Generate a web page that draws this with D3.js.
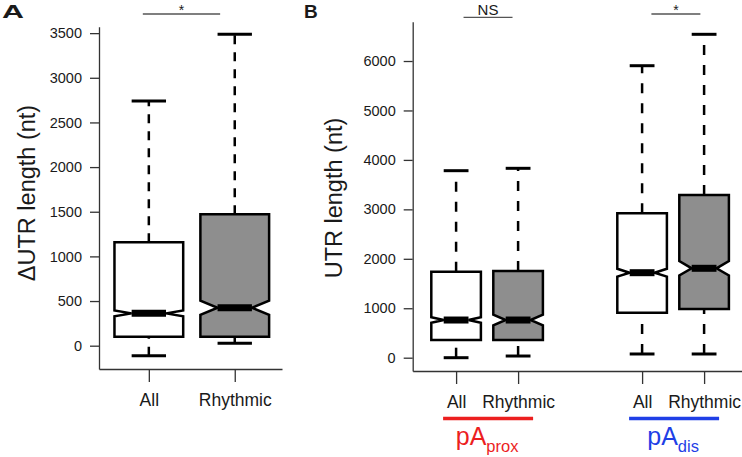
<!DOCTYPE html>
<html>
    <head>
        <meta charset="utf-8">
        <title>UTR length boxplots</title>
        <style>
            body { margin: 0; background: #fff; }
            text { font-family: Arial, "Liberation Sans", Helvetica, sans-serif; fill: #1a1a1a; }
        </style>
    </head>
    <body>
        <svg width="742" height="457" id="lienzo"></svg>

        <script src="https://cdn.jsdelivr.net/npm/d3@7/dist/d3.min.js"></script>
        <script>
            // Panel A: delta UTR length (nt)
            const aCategories = ["All", "Rhythmic"];
            const aWhiskerLow = [-112, 27];
            const aQ1 = [100, 100];
            const aMedian = [362, 425];
            const aQ3 = [1158, 1471];
            const aWhiskerHigh = [2740, 3487];
            const aNotch = [32, 80]; // half height of the notch, nt
            const aTicks = [0, 500, 1000, 1500, 2000, 2500, 3000, 3500];

            // Panel B: UTR length (nt), proximal and distal pA
            const bGroups = ["prox", "dis"];
            const bCategories = ["All", "Rhythmic", "All", "Rhythmic"];
            const bWhiskerLow = [0, 34, 75, 75];
            const bQ1 = [358, 358, 910, 985];
            const bMedian = [762, 762, 1719, 1808];
            const bQ3 = [1739, 1753, 2920, 3290];
            const bWhiskerHigh = [3782, 3830, 5905, 6540];
            const bNotch = [55, 108, 80, 145];
            const bTicks = [0, 1000, 2000, 3000, 4000, 5000, 6000];

            const svg = d3.select("#lienzo");

            function drawBoxes(g, x, y, slots, cats, lo, q1, med, q3, hi, notch, dash) {
                const hw = x(1.4) - x(1); // half box width (boxwex 0.8)
                cats.forEach((cat, i) => {
                    const cx = x(slots[i]);
                    const fill = cat === "Rhythmic" ? "#8e8e8e" : "#ffffff";
                    const nLo = y(med[i] - notch[i]), nHi = y(med[i] + notch[i]);
                    const pts = [
                        [cx - hw, y(q1[i])], [cx - hw, nLo], [cx - hw / 2, y(med[i])], [cx - hw, nHi],
                        [cx - hw, y(q3[i])], [cx + hw, y(q3[i])], [cx + hw, nHi], [cx + hw / 2, y(med[i])],
                        [cx + hw, nLo], [cx + hw, y(q1[i])]
                    ];
                    // whiskers
                    g.append("line")
                        .attr("x1", cx).attr("x2", cx)
                        .attr("y1", y(q3[i])).attr("y2", y(hi[i]))
                        .attr("stroke", "#000").attr("stroke-width", 2.5)
                        .attr("stroke-dasharray", dash);
                    g.append("line")
                        .attr("x1", cx).attr("x2", cx)
                        .attr("y1", y(lo[i])).attr("y2", y(q1[i]))
                        .attr("stroke", "#000").attr("stroke-width", 2.5)
                        .attr("stroke-dasharray", dash);
                    [lo[i], hi[i]].forEach(v => {
                        g.append("line")
                            .attr("x1", cx - hw / 2).attr("x2", cx + hw / 2)
                            .attr("y1", y(v)).attr("y2", y(v))
                            .attr("stroke", "#000").attr("stroke-width", 3);
                    });
                    // notched box
                    g.append("path")
                        .attr("d", d3.line()(pts) + "Z")
                        .attr("fill", fill)
                        .attr("stroke", "#000").attr("stroke-width", 2.5)
                        .attr("stroke-linejoin", "miter");
                    // median
                    g.append("line")
                        .attr("x1", cx - hw / 2).attr("x2", cx + hw / 2)
                        .attr("y1", y(med[i])).attr("y2", y(med[i]))
                        .attr("stroke", "#000").attr("stroke-width", 7);
                });
            }

            function drawAxes(g, x, y, ticks, slots, cats) {
                const yAxis = d3.axisLeft(y).tickValues(ticks).tickFormat(d3.format("d"))
                    .tickSize(9).tickSizeOuter(0).tickPadding(8);
                const yg = g.append("g")
                    .attr("transform", "translate(" + x.range()[0] + ",0)")
                    .call(yAxis);
                yg.selectAll("text").style("font-size", "14.5px").attr("fill", "#1a1a1a");

                const xAxis = d3.axisBottom(x).tickValues(slots).tickFormat((d, i) => cats[i])
                    .tickSize(13).tickSizeOuter(0).tickPadding(12);
                const xg = g.append("g")
                    .attr("transform", "translate(0," + y.range()[0] + ")")
                    .call(xAxis);
                xg.selectAll("text").style("font-size", "17.5px").attr("fill", "#1a1a1a");

                g.selectAll(".domain, .tick line").attr("stroke", "#333").attr("stroke-width", 1.3);
            }

            function drawSignif(g, x, from, to, ly, label, size) {
                g.append("line")
                    .attr("x1", x(from)).attr("x2", x(to))
                    .attr("y1", ly).attr("y2", ly)
                    .attr("stroke", "#555").attr("stroke-width", 1.3);
                g.append("text")
                    .attr("x", (x(from) + x(to)) / 2).attr("y", label === "*" ? ly + 0.5 : ly - 2.5)
                    .attr("text-anchor", "middle")
                    .style("font-size", size + "px")
                    .text(label);
            }

            // ---------------- Panel A ----------------
            const xA = d3.scaleLinear().domain([0.42, 2.55]).range([99, 282]);
            const yA = d3.scaleLinear().domain([-261, 3572]).range([369, 26.7]);
            const slotsA = aCategories.map((c, i) => i + 1);
            const gA = svg.append("g");
            drawAxes(gA, xA, yA, aTicks, slotsA, aCategories);
            drawBoxes(gA, xA, yA, slotsA, aCategories, aWhiskerLow, aQ1, aMedian, aQ3, aWhiskerHigh, aNotch, "9,8");
            drawSignif(gA, xA, 0.93, 1.83, 14, "*", 14);

            gA.append("text")
                .attr("transform", "translate(35,193) rotate(-90)")
                .attr("text-anchor", "middle")
                .style("font-size", "23.5px")
                .text("\u0394UTR length (nt)");
            gA.append("text")
                .attr("x", 2).attr("y", 18)
                .attr("textLength", 22).attr("lengthAdjust", "spacingAndGlyphs")
                .style("font-size", "19px").style("font-weight", "bold")
                .text("A");

            // ---------------- Panel B ----------------
            const xB = d3.scaleLinear().domain([0.3, 5.7]).range([412.7, 747.5]);
            const yB = d3.scaleLinear().domain([-269, 6795]).range([371, 21.7]);
            // two categories per group, an empty slot between groups
            const slotsB = bCategories.map((c, i) => Math.floor(i / 2) * 3 + (i % 2) + 1);
            const gB = svg.append("g");
            drawAxes(gB, xB, yB, bTicks, slotsB, bCategories);
            drawBoxes(gB, xB, yB, slotsB, bCategories, bWhiskerLow, bQ1, bMedian, bQ3, bWhiskerHigh, bNotch, "10,10");
            drawSignif(gB, xB, 1.12, 1.91, 17.3, "NS", 15);
            drawSignif(gB, xB, 4.15, 4.94, 14, "*", 14);

            gB.append("text")
                .attr("transform", "translate(341.5,198) rotate(-90)")
                .attr("text-anchor", "middle")
                .style("font-size", "23.5px")
                .text("UTR length (nt)");
            gB.append("text")
                .attr("x", 304).attr("y", 18)
                .style("font-size", "19px").style("font-weight", "bold")
                .text("B");

            // group labels under the x axis
            const groupColors = { prox: "#ec1f1f", dis: "#1f3fe6" };
            bGroups.forEach((grp, gi) => {
                const s0 = gi * 3 + 1, s1 = gi * 3 + 2;
                const cx = (xB(s0) + xB(s1)) / 2;
                gB.append("line")
                    .attr("x1", xB(s0) - 13).attr("x2", xB(s1) + 15)
                    .attr("y1", 418.5).attr("y2", 418.5)
                    .attr("stroke", groupColors[grp]).attr("stroke-width", 3.3);
                const t = gB.append("text")
                    .attr("x", cx).attr("y", 444.5)
                    .attr("text-anchor", "middle")
                    .style("font-size", "25px")
                    .style("fill", groupColors[grp]);
                t.append("tspan").text("pA");
                t.append("tspan")
                    .attr("dy", 7)
                    .style("font-size", "16.5px")
                    .style("fill", groupColors[grp])
                    .text(grp);
            });
        </script>
    </body>
</html>
